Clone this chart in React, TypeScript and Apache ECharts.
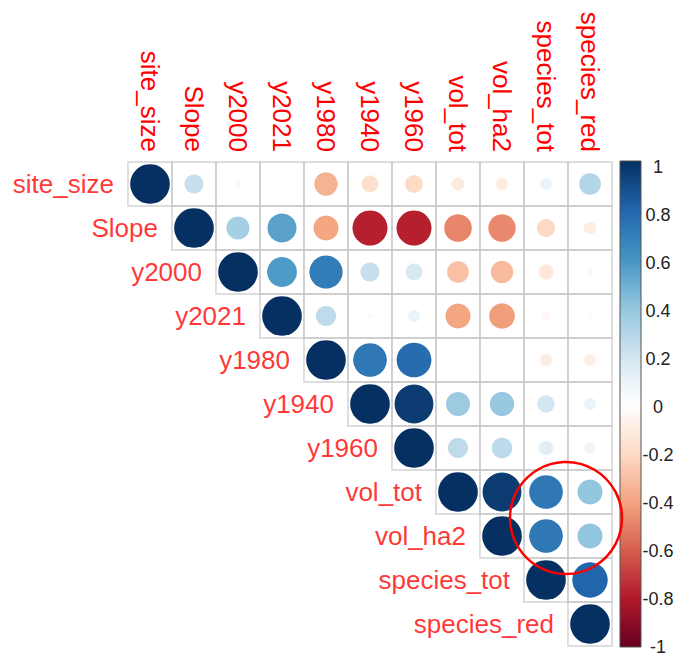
import React, { useEffect, useRef } from "react";
import * as echarts from "echarts";

// Variables, in matrix order
const variables = [
  "site_size", "Slope", "y2000", "y2021", "y1980", "y1940",
  "y1960", "vol_tot", "vol_ha2", "species_tot", "species_red",
];

// Upper triangle of the correlation matrix: each row starts at its diagonal
const rowSiteSize = [1, 0.23, -0.04, 0.02, -0.35, -0.18, -0.2, -0.11, -0.1, 0.09, 0.3];
const rowSlope = [1, 0.34, 0.54, -0.4, -0.78, -0.78, -0.49, -0.48, -0.21, -0.1];
const rowY2000 = [1, 0.57, 0.7, 0.23, 0.18, -0.3, -0.32, -0.14, 0.03];
const rowY2021 = [1, 0.26, 0.03, 0.09, -0.4, -0.42, -0.04, -0.03];
const rowY1980 = [1, 0.72, 0.77, 0.015, -0.015, -0.1, -0.09];
const rowY1940 = [1, 0.96, 0.37, 0.38, 0.19, 0.09];
const rowY1960 = [1, 0.26, 0.27, 0.13, 0.08];
const rowVolTot = [1, 0.96, 0.72, 0.4];
const rowVolHa2 = [1, 0.72, 0.4];
const rowSpeciesTot = [1, 0.8];
const rowSpeciesRed = [1];

const upperRows = [
  rowSiteSize, rowSlope, rowY2000, rowY2021, rowY1980, rowY1940,
  rowY1960, rowVolTot, rowVolHa2, rowSpeciesTot, rowSpeciesRed,
];

// Colour legend ticks
const legendTicks = [-1, -0.8, -0.6, -0.4, -0.2, 0, 0.2, 0.4, 0.6, 0.8, 1];

// RdBu palette, from -1 to +1
const rdbu = [
  "#67001F", "#B2182B", "#D6604D", "#F4A582", "#FDDBC7", "#FFFFFF",
  "#D1E5F0", "#92C5DE", "#4393C3", "#2166AC", "#053061",
];

const FONT = "Liberation Sans, Arial, sans-serif";
const LABEL_RED = "#FF0000";
const GRID_LEFT = 128;
const GRID_TOP = 162;
const GRID_SIZE = 484;
const CELL = GRID_SIZE / variables.length;

const BAR_LEFT = 620;
const BAR_TOP = 161;
const BAR_W = 21;
const BAR_H = 486;

export default function App() {
  const ref = useRef<HTMLDivElement>(null);

  useEffect(() => {
    if (!ref.current) return;
    const chart = echarts.init(ref.current, undefined, { renderer: "svg" });

    const cells: number[][] = [];
    const corr: number[][] = [];
    upperRows.forEach((vals, i) => {
      vals.forEach((v, k) => {
        const j = i + k;
        cells.push([j, i]);
        corr.push([j, i, v]);
      });
    });
    const diag = variables.map((_, i) => [i, i]);

    const gradientStops = rdbu
      .slice()
      .reverse()
      .map((c, i) => ({ offset: i / (rdbu.length - 1), color: c }));

    chart.setOption({
      animation: false,
      backgroundColor: "#ffffff",
      grid: [
        { left: GRID_LEFT, top: GRID_TOP, width: GRID_SIZE, height: GRID_SIZE },
        { left: BAR_LEFT, top: BAR_TOP, width: BAR_W, height: BAR_H },
      ],
      xAxis: [
        {
          type: "category",
          gridIndex: 0,
          position: "top",
          data: variables,
          axisLine: { show: false },
          axisTick: { show: false },
          splitLine: { show: false },
          axisLabel: {
            interval: 0,
            rotate: 90,
            margin: 10,
            color: LABEL_RED,
            fontSize: 26,
            fontFamily: FONT,
          },
        },
        { type: "value", gridIndex: 1, show: false, min: 0, max: 1 },
      ],
      yAxis: [
        {
          type: "category",
          gridIndex: 0,
          inverse: true,
          data: variables,
          axisLine: { show: false },
          axisTick: { show: false },
          axisLabel: { show: false },
          splitLine: { show: false },
        },
        {
          type: "value",
          gridIndex: 1,
          position: "right",
          min: -1,
          max: 1,
          interval: 0.2,
          axisLine: { show: false },
          splitLine: { show: false },
          axisTick: {
            show: true,
            inside: false,
            length: 4,
            lineStyle: { color: "#333", width: 1 },
          },
          axisLabel: {
            margin: 17,
            align: "center",
            verticalAlign: "top",
            lineHeight: 12,
            color: "#222",
            fontSize: 18,
            fontFamily: FONT,
            customValues: legendTicks,
            formatter: (v: number) => String(Math.round(v * 10) / 10),
          },
        },
      ],
      visualMap: {
        show: false,
        type: "continuous",
        seriesIndex: 1,
        dimension: 2,
        min: -1,
        max: 1,
        inRange: { color: rdbu },
      },
      series: [
        {
          type: "scatter",
          xAxisIndex: 0,
          yAxisIndex: 0,
          symbol: "rect",
          symbolSize: CELL,
          silent: true,
          data: cells,
          itemStyle: {
            color: "rgba(255,255,255,0)",
            borderColor: "#C6C6C6",
            borderWidth: 1.4,
          },
          z: 1,
        },
        {
          type: "scatter",
          xAxisIndex: 0,
          yAxisIndex: 0,
          symbol: "circle",
          data: corr,
          symbolSize: (d: number[]) => CELL * 0.9 * Math.sqrt(Math.abs(d[2])),
          itemStyle: { opacity: 1 },
          z: 3,
        },
        {
          type: "scatter",
          xAxisIndex: 0,
          yAxisIndex: 0,
          symbol: "rect",
          symbolSize: CELL,
          silent: true,
          data: diag,
          itemStyle: { color: "rgba(255,255,255,0)" },
          label: {
            show: true,
            position: "left",
            distance: 14,
            color: LABEL_RED,
            fontSize: 26,
            fontFamily: FONT,
            formatter: (p: any) => variables[p.dataIndex],
          },
          z: 2,
        },
      ],
      graphic: [
        {
          type: "rect",
          shape: { x: BAR_LEFT, y: BAR_TOP, width: BAR_W, height: BAR_H },
          style: {
            fill: new echarts.graphic.LinearGradient(0, 0, 0, 1, gradientStops),
            stroke: "#555",
            lineWidth: 1,
          },
          z: 5,
        },
        {
          type: "circle",
          shape: { cx: 566, cy: 518, r: 56 },
          style: { fill: "rgba(0,0,0,0)", stroke: "#FF0000", lineWidth: 2.5 },
          z: 10,
        },
      ],
    });

    return () => chart.dispose();
  }, []);

  return (
    <div
      ref={ref}
      style={{ position: "fixed", left: 0, top: 0, width: 677, height: 656, background: "#fff" }}
    />
  );
}
